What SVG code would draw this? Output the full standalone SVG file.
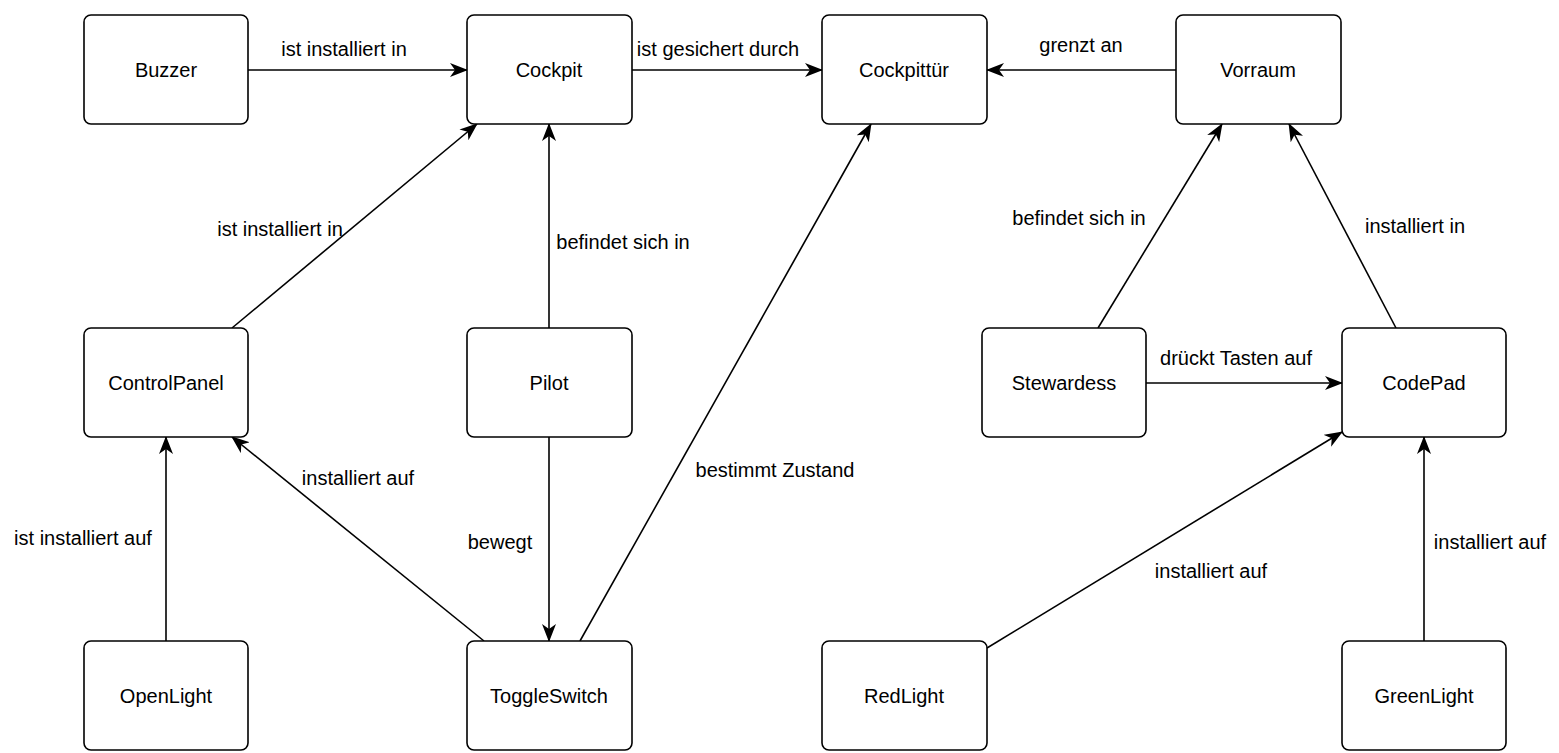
<svg xmlns="http://www.w3.org/2000/svg" width="1559" height="753" viewBox="0 0 1559 753">
  <style>
    .node rect { fill: #ffffff; stroke: #000000; stroke-width: 1.6; }
    .node text { font-family: "Liberation Sans", Arial, sans-serif; font-size: 20px; fill: #000000; text-anchor: middle; }
    .edge line { stroke: #000000; stroke-width: 1.6; fill: none; marker-end: url(#arrow); }
    .label { font-family: "Liberation Sans", Arial, sans-serif; font-size: 20px; fill: #000000; text-anchor: middle; }
  </style>
  <defs>
    <marker id="arrow" viewBox="0 0 18 14" refX="17" refY="7" markerWidth="18" markerHeight="14" markerUnits="userSpaceOnUse" orient="auto">
      <path d="M0,0 L18,7 L0,14 L5,7 z" fill="#000000"/>
    </marker>
  </defs>
  <rect width="1559" height="753" fill="#ffffff"/>

  <!-- connectors -->
  <g id="connectors">
    <g class="edge" id="e-buzzer-cockpit"><line x1="248" y1="70" x2="467" y2="70"/></g>
    <g class="edge" id="e-cockpit-door"><line x1="632" y1="70" x2="822" y2="70"/></g>
    <g class="edge" id="e-vorraum-door"><line x1="1176" y1="70" x2="987" y2="70"/></g>
    <g class="edge" id="e-panel-cockpit"><line x1="232" y1="328" x2="477" y2="124"/></g>
    <g class="edge" id="e-pilot-cockpit"><line x1="549" y1="328" x2="549" y2="124"/></g>
    <g class="edge" id="e-pilot-toggle"><line x1="549" y1="437" x2="549" y2="641"/></g>
    <g class="edge" id="e-toggle-panel"><line x1="484" y1="641" x2="232" y2="437"/></g>
    <g class="edge" id="e-open-panel"><line x1="166" y1="641" x2="166" y2="437"/></g>
    <g class="edge" id="e-toggle-door"><line x1="580" y1="641" x2="871" y2="124"/></g>
    <g class="edge" id="e-steward-vorraum"><line x1="1098" y1="328" x2="1222" y2="124"/></g>
    <g class="edge" id="e-codepad-vorraum"><line x1="1396" y1="328" x2="1289" y2="124"/></g>
    <g class="edge" id="e-steward-codepad"><line x1="1146" y1="383" x2="1342" y2="383"/></g>
    <g class="edge" id="e-red-codepad"><line x1="987" y1="648" x2="1342" y2="432"/></g>
    <g class="edge" id="e-green-codepad"><line x1="1424" y1="641" x2="1424" y2="437"/></g>

    <text class="label" x="344" y="56">ist installiert in</text>
    <text class="label" x="718" y="56">ist gesichert durch</text>
    <text class="label" x="1081" y="52">grenzt an</text>
    <text class="label" x="280" y="236">ist installiert in</text>
    <text class="label" x="623" y="249">befindet sich in</text>
    <text class="label" x="500" y="549">bewegt</text>
    <text class="label" x="358" y="485">installiert auf</text>
    <text class="label" x="83" y="545">ist installiert auf</text>
    <text class="label" x="775" y="477">bestimmt Zustand</text>
    <text class="label" x="1079" y="225">befindet sich in</text>
    <text class="label" x="1415" y="233">installiert in</text>
    <text class="label" x="1236" y="365">drückt Tasten auf</text>
    <text class="label" x="1211" y="578">installiert auf</text>
    <text class="label" x="1490" y="549">installiert auf</text>
  </g>

  <!-- nodes -->
  <g class="node" id="buzzer"><rect x="84" y="15" width="164" height="109" rx="7"/><text x="166" y="77">Buzzer</text></g>
  <g class="node" id="cockpit"><rect x="467" y="15" width="165" height="109" rx="7"/><text x="549" y="77">Cockpit</text></g>
  <g class="node" id="cockpittuer"><rect x="822" y="15" width="165" height="109" rx="7"/><text x="904" y="77">Cockpittür</text></g>
  <g class="node" id="vorraum"><rect x="1176" y="15" width="165" height="109" rx="7"/><text x="1258" y="77">Vorraum</text></g>
  <g class="node" id="controlpanel"><rect x="84" y="328" width="164" height="109" rx="7"/><text x="166" y="390">ControlPanel</text></g>
  <g class="node" id="pilot"><rect x="467" y="328" width="165" height="109" rx="7"/><text x="549" y="390">Pilot</text></g>
  <g class="node" id="stewardess"><rect x="982" y="328" width="164" height="109" rx="7"/><text x="1064" y="390">Stewardess</text></g>
  <g class="node" id="codepad"><rect x="1342" y="328" width="164" height="109" rx="7"/><text x="1424" y="390">CodePad</text></g>
  <g class="node" id="openlight"><rect x="84" y="641" width="164" height="109" rx="7"/><text x="166" y="703">OpenLight</text></g>
  <g class="node" id="toggleswitch"><rect x="467" y="641" width="165" height="109" rx="7"/><text x="549" y="703">ToggleSwitch</text></g>
  <g class="node" id="redlight"><rect x="822" y="641" width="165" height="109" rx="7"/><text x="904" y="703">RedLight</text></g>
  <g class="node" id="greenlight"><rect x="1342" y="641" width="164" height="109" rx="7"/><text x="1424" y="703">GreenLight</text></g>
</svg>
